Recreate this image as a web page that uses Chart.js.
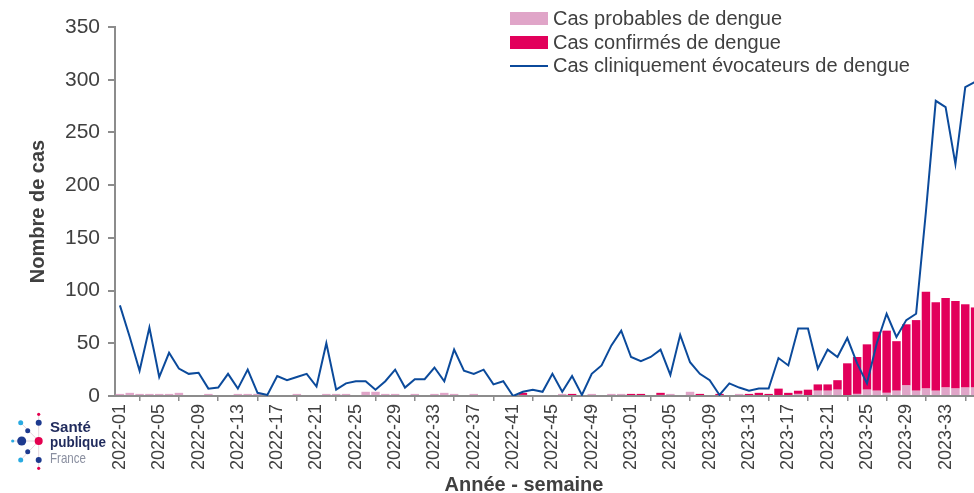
<!DOCTYPE html>
<html lang="fr">
<head>
<meta charset="utf-8">
<title>Dengue - cas par semaine</title>
<script src="https://cdn.jsdelivr.net/npm/chart.js@4.4.0/dist/chart.umd.min.js"></script>
<style>
html,body{margin:0;padding:0;background:#fff;overflow:hidden;}
#wrap{position:relative;width:980px;height:493px;font-family:"Liberation Sans",Arial,sans-serif;color:#404040;}
#legend{position:absolute;left:510px;top:7px;font-size:20px;}
.row{display:flex;align-items:center;height:23.5px;white-space:nowrap;}
.sw{width:38px;margin-right:5px;}
#xtitle{position:absolute;left:404px;width:240px;top:472px;text-align:center;font-weight:bold;font-size:20px;line-height:24px;}
#logo{position:absolute;left:0;top:405px;}
</style>
</head>
<body>
<div id="wrap">
  <canvas id="chart" width="980" height="493"></canvas>
  <div id="legend"></div>
  <div id="xtitle">Année - semaine</div>
  <svg id="logo" width="112" height="70" viewBox="0 0 112 70">
    <g stroke="#dccbd4" stroke-width="0.8">
      <line x1="38.7" y1="36" x2="38.7" y2="9"/><line x1="38.7" y1="36" x2="20.7" y2="17.7"/>
      <line x1="38.7" y1="36" x2="12.7" y2="36"/><line x1="38.7" y1="36" x2="20.7" y2="55"/>
      <line x1="38.7" y1="36" x2="38.7" y2="63.5"/>
    </g>
    <circle cx="38.7" cy="9.3" r="1.6" fill="#e4004f"/>
    <circle cx="38.7" cy="17.7" r="3" fill="#1d3a8f"/>
    <circle cx="20.7" cy="17.7" r="2.5" fill="#29aae1"/>
    <circle cx="27.7" cy="25.7" r="2.5" fill="#1d3a8f"/>
    <circle cx="21.7" cy="36" r="4.5" fill="#1d3a8f"/>
    <circle cx="12.7" cy="36" r="1.6" fill="#29aae1"/>
    <circle cx="38.7" cy="36" r="4" fill="#e4004f"/>
    <circle cx="27.7" cy="46.7" r="2.5" fill="#1d3a8f"/>
    <circle cx="20.7" cy="55" r="2.5" fill="#29aae1"/>
    <circle cx="38.7" cy="55" r="3" fill="#1d3a8f"/>
    <circle cx="38.7" cy="63.3" r="1.6" fill="#e4004f"/>
    <g font-family="'Liberation Sans Narrow','Liberation Sans',Arial,sans-serif" font-size="15">
      <text x="50" y="27" font-weight="bold" fill="#1f2a5c" textLength="41" lengthAdjust="spacingAndGlyphs">Santé</text>
      <text x="50" y="41.5" font-weight="bold" fill="#1f2a5c" textLength="56" lengthAdjust="spacingAndGlyphs">publique</text>
      <text x="50" y="58" fill="#8a8fa0" textLength="36" lengthAdjust="spacingAndGlyphs">France</text>
    </g>
  </svg>
</div>
<script>
const weeks = [
  "2022-01","2022-02","2022-03","2022-04","2022-05","2022-06","2022-07","2022-08","2022-09","2022-10",
  "2022-11","2022-12","2022-13","2022-14","2022-15","2022-16","2022-17","2022-18","2022-19","2022-20",
  "2022-21","2022-22","2022-23","2022-24","2022-25","2022-26","2022-27","2022-28","2022-29","2022-30",
  "2022-31","2022-32","2022-33","2022-34","2022-35","2022-36","2022-37","2022-38","2022-39","2022-40",
  "2022-41","2022-42","2022-43","2022-44","2022-45","2022-46","2022-47","2022-48","2022-49","2022-50",
  "2022-51","2022-52","2023-01","2023-02","2023-03","2023-04","2023-05","2023-06","2023-07","2023-08",
  "2023-09","2023-10","2023-11","2023-12","2023-13","2023-14","2023-15","2023-16","2023-17","2023-18",
  "2023-19","2023-20","2023-21","2023-22","2023-23","2023-24","2023-25","2023-26","2023-27","2023-28",
  "2023-29","2023-30","2023-31","2023-32","2023-33","2023-34","2023-35","2023-36"
];

// cas probables (rose, bas de la barre), 10 semaines par ligne
const probables = [
  2,3,2,2,2,2,3,0,0,2,
  0,0,2,2,2,0,0,0,2,0,
  0,2,2,2,0,4,4,2,2,0,
  2,0,2,3,2,0,2,0,0,0,
  0,1,0,0,0,2,0,0,2,0,
  2,2,0,0,0,1,2,0,4,0,
  0,0,0,2,0,0,0,0,0,2,
  0,5,5,6,0,2,6,5,3,5,
  10,5,7,5,8,7,8,8
];

// cas confirmés (rouge)
const confirmes = [
  0,0,0,0,0,0,0,0,0,0,
  0,0,0,0,0,0,0,0,0,0,
  0,0,0,0,0,0,0,0,0,0,
  0,0,0,0,0,0,0,0,0,0,
  0,2,0,0,0,0,2,0,0,0,
  0,0,2,2,0,2,0,0,0,2,
  0,2,0,0,2,3,2,7,3,3,
  6,6,6,9,31,35,43,56,59,47,
  58,67,92,84,85,83,79,76
];

// cas cliniquement évocateurs (courbe)
const cliniques = [
  86,56,24,65,18,41,26,21,22,7,
  8,21,7,25,3,1,19,15,18,21,
  9,50,6,12,14,14,6,14,25,8,
  16,16,27,14,44,24,21,25,11,14,
  0,4,6,4,21,4,19,1,21,29,
  48,62,37,33,37,44,20,58,32,21,
  15,1,12,8,5,7,7,36,29,64,
  64,26,44,37,55,31,12,50,78,56,
  72,78,175,280,274,220,293,298
];

const yTicks = [0,50,100,150,200,250,300,350];
const AXIS = '#8c8c8c';
const TXT = '#404040';

Chart.defaults.font.family = '"Liberation Sans", Arial, sans-serif';

const chart = new Chart(document.getElementById('chart'), {
  type: 'bar',
  data: {
    labels: weeks,
    datasets: [
      {label: 'Cas probables de dengue', data: probables, backgroundColor: '#e0a5c8',
       barPercentage: 0.86, categoryPercentage: 1, order: 1},
      {label: 'Cas confirmés de dengue', data: confirmes, backgroundColor: '#e2005b',
       barPercentage: 0.86, categoryPercentage: 1, order: 1},
      {type: 'line', label: 'Cas cliniquement évocateurs de dengue', data: cliniques,
       borderColor: '#0b4a9b', backgroundColor: '#0b4a9b', borderWidth: 2,
       pointRadius: 0, tension: 0, stack: 'ligne', order: -1}
    ]
  },
  options: {
    responsive: false,
    animation: false,
    devicePixelRatio: 1,
    layout: {padding: {top: 27, left: 0, right: 0, bottom: 0}},
    plugins: {legend: {display: false}, tooltip: {enabled: false}},
    scales: {
      x: {
        stacked: true,
        offset: true,
        grid: {offset: true, drawOnChartArea: false, tickLength: 5, color: AXIS, lineWidth: 1.5},
        border: {color: AXIS, width: 2},
        ticks: {
          autoSkip: false, minRotation: 90, maxRotation: 90, padding: 3,
          color: TXT, font: {size: 18},
          callback: (v, i) => (i % 4 === 0 ? weeks[i] : null)
        },
        afterFit: s => { s.height = 97; }
      },
      y: {
        stacked: true,
        min: yTicks[0],
        max: yTicks[yTicks.length - 1],
        grid: {drawOnChartArea: false, tickLength: 7, color: AXIS, lineWidth: 2},
        border: {color: AXIS, width: 2},
        ticks: {stepSize: yTicks[1] - yTicks[0], color: TXT, font: {size: 21}, padding: 8},
        title: {display: true, text: 'Nombre de cas', color: TXT,
                font: {size: 20, weight: 'bold'}, padding: {top: 26}},
        afterFit: s => { s.width = 115; }
      }
    }
  }
});

// legende en haut a droite, construite depuis les datasets
const leg = document.getElementById('legend');
chart.data.datasets.forEach(ds => {
  const row = document.createElement('div');
  row.className = 'row';
  const sw = document.createElement('div');
  sw.className = 'sw';
  if (ds.type === 'line') {
    sw.style.height = '2px';
    sw.style.background = ds.borderColor;
  } else {
    sw.style.height = '13px';
    sw.style.background = ds.backgroundColor;
  }
  const lab = document.createElement('span');
  lab.textContent = ds.label;
  row.appendChild(sw);
  row.appendChild(lab);
  leg.appendChild(row);
});
</script>
</body>
</html>
